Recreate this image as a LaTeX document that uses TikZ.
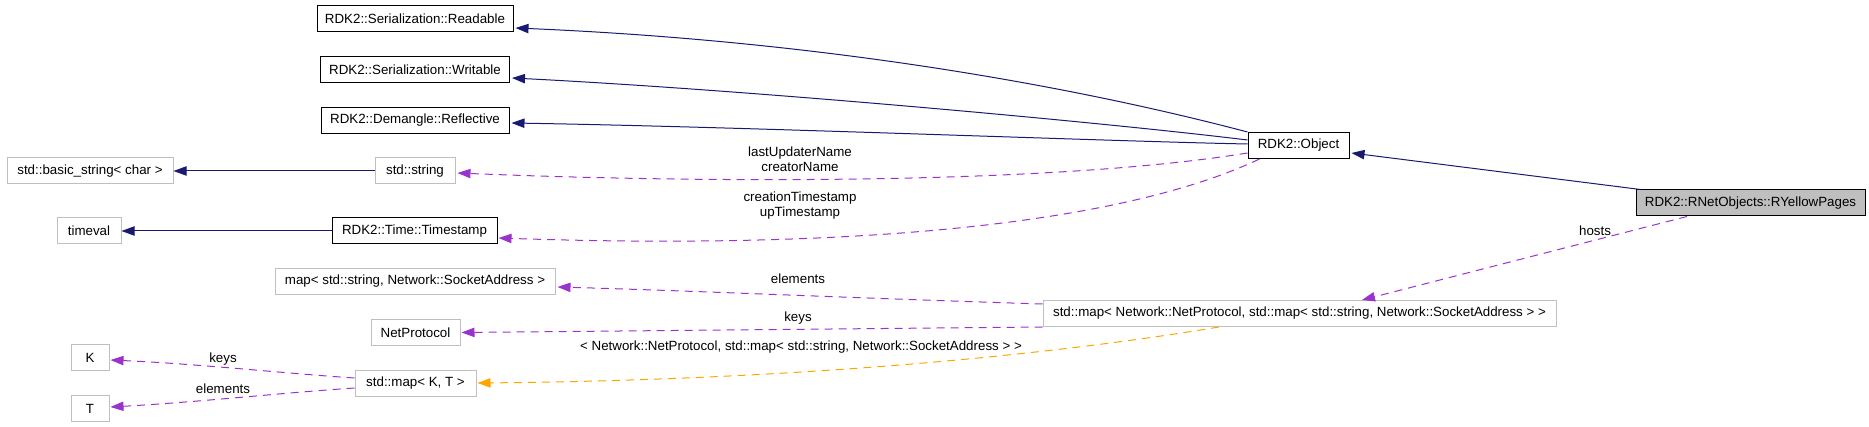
\documentclass[tikz,border=0pt]{standalone}
\usepackage{fontspec}
\setmainfont{Liberation Sans}
\usepackage{tikz}
\usetikzlibrary{arrows.meta,calc}
\definecolor{Navy}{HTML}{191970}
\definecolor{Orchid}{HTML}{9A32CD}
\definecolor{Amber}{HTML}{FFA500}
\definecolor{Frame}{HTML}{BFBFBF}
\definecolor{Focus}{HTML}{BFBFBF}

\begin{document}
\begin{tikzpicture}[x=0.75pt,y=-0.75pt,
        font=\fontsize{10pt}{11.25pt}\selectfont,
        box/.style={draw=black,line width=0.75pt,minimum height=19.5pt,inner sep=0pt},
        extbox/.style={box,draw=Frame},
        inherit/.style={Navy,line width=0.75pt,-{Triangle[length=9.75pt,width=7pt]}},
        member/.style={Orchid,line width=0.75pt,dash pattern=on 6pt off 4.5pt,
              -{Triangle[length=9.75pt,width=7pt]}},
        tmpl/.style={member,Amber},
        lbl/.style={align=center,inner sep=0pt}]
        \useasboundingbox (0,0) rectangle (1869,427);
        % classes
        \node[box,minimum width=147pt] (readable) at (415,19) {RDK2::Serialization::Readable};
        \node[box,minimum width=141.75pt] (writable) at (415,69.5) {RDK2::Serialization::Writable};
        \node[box,minimum width=141pt] (reflective) at (415,120.5) {RDK2::Demangle::Reflective};
        \node[extbox,minimum width=124.5pt] (basicstr) at (90,171) {std::basic\_string< char >};
        \node[extbox,minimum width=60pt] (stdstring) at (415,171) {std::string};
        \node[extbox,minimum width=48pt] (timeval) at (89,231) {timeval};
        \node[box,minimum width=123.75pt] (timestamp) at (414.5,231) {RDK2::Time::Timestamp};
        \node[extbox,minimum width=210pt] (mapsa) at (415,281.5) {map< std::string, Network::SocketAddress >};
        \node[extbox,minimum width=66.75pt] (netproto) at (415.5,332.5) {NetProtocol};
        \node[extbox,minimum width=28.5pt] (kparam) at (90,357.5) {K};
        \node[extbox,minimum width=28.5pt] (tparam) at (90,408.5) {T};
        \node[extbox,minimum width=90.75pt] (mapkt) at (415.5,383) {std::map< K, T >};
        \node[box,minimum width=75.75pt] (object) at (1298.5,145.5) {RDK2::Object};
        \node[extbox,minimum width=384.75pt] (bigmap) at (1299.5,313.5)
              {std::map< Network::NetProtocol, std::map< std::string, Network::SocketAddress > >};
        \node[box,fill=Focus,minimum width=171.75pt] (yellow) at (1750.5,203) {RDK2::RNetObjects::RYellowPages};
        % inheritance
        \draw[inherit] (object.north west) .. controls (1050,80) and (800,40) .. ($(readable.east)+(2,9)$);
        \draw[inherit] ($(object.west)+(0,-5.5)$) .. controls (1100,122) and (750,90) .. ($(writable.east)+(2,8.5)$);
        \draw[inherit] ($(object.west)+(0,-1.5)$) .. controls (1100,141) and (750,127) .. ($(reflective.east)+(2,2.5)$);
        \draw[inherit] (stdstring.west) -- (basicstr.east);
        \draw[inherit] (timestamp.west) -- (timeval.east);
        \draw[inherit] ($(yellow.north west)+(5,0)$) -- ($(object.east)+(2,7.5)$);
        % members
        \draw[member] ($(object.west)+(0,7.5)$) .. controls (1050,185) and (700,183) .. ($(stdstring.east)+(2,2)$);
        \draw[member] ($(object.south west)+(12,0)$) .. controls (1120,225) and (850,250) .. ($(timestamp.east)+(1,7)$);
        \draw[member] ($(yellow.south)+(-63.5,0)$) -- ($(bigmap.north)+(62.5,0)$);
        \draw[member] ($(bigmap.west)+(0,-9.5)$) .. controls (850,298) and (700,291) .. ($(mapsa.east)+(2,5.5)$);
        \draw[member] (bigmap.south west) -- ($(netproto.east)+(1,0)$);
        \draw[tmpl] ($(bigmap.south)+(-80.5,0)$) .. controls (1050,355) and (800,380) .. ($(mapkt.east)+(1,0)$);
        \draw[member] ($(mapkt.west)+(0,-5)$) .. controls (280,373) and (200,364) .. ($(kparam.east)+(1,2.5)$);
        \draw[member] ($(mapkt.west)+(0,5)$) .. controls (280,393) and (200,402) .. ($(tparam.east)+(1,-1.5)$);
        % labels
        \node[lbl] (lblname) at (800,159.5) {lastUpdaterName\\creatorName};
        \node[lbl] (lbltime) at (800,206) {creationTimestamp\\upTimestamp};
        \node[lbl] (lblelem) at (798,279) {elements};
        \node[lbl] (lblkeys) at (798,318) {keys};
        \node[lbl] (lbltmpl) at (801,347)
              {< Network::NetProtocol, std::map< std::string, Network::SocketAddress > >};
        \node[lbl] (lblhosts) at (1595,231) {hosts};
        \node[lbl] (lblkkeys) at (223,359) {keys};
        \node[lbl] (lbltelem) at (223,389) {elements};
\end{tikzpicture}
\end{document}
